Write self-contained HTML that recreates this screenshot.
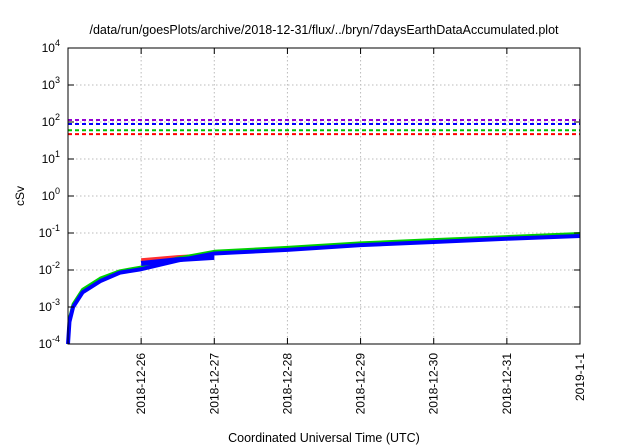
<!DOCTYPE html>
<html><head><meta charset="utf-8"><style>
body{margin:0;background:#fff}
svg{display:block;font-family:"Liberation Sans",sans-serif}
</style></head><body>
<svg id="chart" width="640" height="448" xmlns="http://www.w3.org/2000/svg">
<text x="324" y="34" font-size="12.5" text-anchor="middle">/data/run/goesPlots/archive/2018-12-31/flux/../bryn/7daysEarthDataAccumulated.plot</text>
<g id="grid"></g>
<g id="series"></g>
<rect x="68" y="48" width="512" height="296" fill="none" stroke="#000" stroke-width="1"/>
<g id="axes"></g>
<text transform="translate(24,196) rotate(-90)" font-size="12" text-anchor="middle">cSv</text>
<text x="324" y="442" font-size="12.5" text-anchor="middle">Coordinated Universal Time (UTC)</text>
</svg>
<script>
const xTickLabels=["2018-12-26","2018-12-27","2018-12-28","2018-12-29","2018-12-30","2018-12-31","2019-1-1"];
const xTickDays=[1,2,3,4,5,6,7];
const yTickExp=[-4,-3,-2,-1,0,1,2,3,4];
const thresholdNames=["purple","blue","green","red"];
const thresholdValues=[113,88,60,47];
const thresholdColors=["#9400d3","#0000ff","#00c000","#ff0000"];
const times=[0.0,0.02,0.07,0.2,0.44,0.71,1.0,1.5,2.0,3.0,4.0,5.0,6.0,7.0];
const blueDose=[0.0001,0.0004,0.001,0.0025,0.005,0.0085,0.0105,0.018,0.028,0.035,0.047,0.057,0.07,0.083];
const greenDose=[0.0001,0.0005,0.0012,0.003,0.006,0.0095,0.012,0.021,0.032,0.041,0.054,0.066,0.08,0.097];
const redDose=[0.0001,0.00045,0.0011,0.0028,0.0056,0.009,0.0115,0.020,0.031,0.040,0.052,0.064,0.078,0.093];
const segTimes=[1.0,1.5,2.0];
const segBlue=[0.015,0.019,0.022];
const segRed=[0.019,0.023,0.026];
const X0=68,X1=580,Y0=344,Y1=48,D0=0.0,D1=7.0;
const xs=d=>X0+(d-D0)/(D1-D0)*(X1-X0);
const ys=v=>Y0-(Math.log10(v)+4)/8*(Y0-Y1);
const NS="http://www.w3.org/2000/svg";
function mk(tag,parent,attrs){const e=document.createElementNS(NS,tag);for(const k in attrs)e.setAttribute(k,attrs[k]);parent.appendChild(e);return e;}
const grid=document.getElementById('grid'),axes=document.getElementById('axes'),series=document.getElementById('series');
xTickDays.forEach((d,i)=>{const x=xs(d);
 const g=mk('line',grid,{x1:x,x2:x,y1:Y1,y2:Y0,stroke:'#bbb','stroke-dasharray':'1.5,2.5','stroke-width':1});
 
 
 const t=mk('line',axes,{x1:x,x2:x,y1:Y0,y2:Y0-6,stroke:'#000'});
 
 
 const t2=mk('line',axes,{x1:x,x2:x,y1:Y1,y2:Y1+6,stroke:'#000'});
 
 
 const l=mk('text',axes,{transform:`translate(${x+4},353) rotate(-90)`,'font-size':12,'text-anchor':'end'});
 l.textContent=xTickLabels[i];
 
 
});
yTickExp.forEach(e=>{const y=ys(Math.pow(10,e));
 if(e>-4&&e<4){const g=mk('line',grid,{x1:X0,x2:X1,y1:y,y2:y,stroke:'#bbb','stroke-dasharray':'1.5,2.5','stroke-width':1});
 
 }
 const t=mk('line',axes,{x1:X0,x2:X0+6,y1:y,y2:y,stroke:'#000'});
 
 
 const t2=mk('line',axes,{x1:X1,x2:X1-6,y1:y,y2:y,stroke:'#000'});
 
 
 const l=mk('text',axes,{x:60,y:y+4,'font-size':12,'text-anchor':'end'});
 l.innerHTML='10<tspan dy="-6" font-size="9">'+e+'</tspan>';
 
 
});
thresholdValues.forEach((v,i)=>{const y=ys(v);
 const l=mk('line',series,{x1:X0,x2:X1,y1:y,y2:y,stroke:thresholdColors[i],'stroke-width':2,'stroke-dasharray':'4,3'});
 
 
});
function poly(tArr,vArr,color,w,name){const p=mk('polyline',series,{points:tArr.map((t,i)=>xs(t)+','+ys(vArr[i])).join(' '),fill:'none',stroke:color,'stroke-width':w,'stroke-linejoin':'round'});
 
 }
poly(times,redDose,'#ff3030',3,'dose-red');
poly(segTimes,segRed,'#ff3030',3,'segment-red');
poly(times,greenDose,'#00d000',3,'dose-green');
poly(segTimes,segBlue,'#0000ff',5,'segment-blue');
poly(times,blueDose,'#0000ff',4,'dose-blue');
</script>
</body></html>
